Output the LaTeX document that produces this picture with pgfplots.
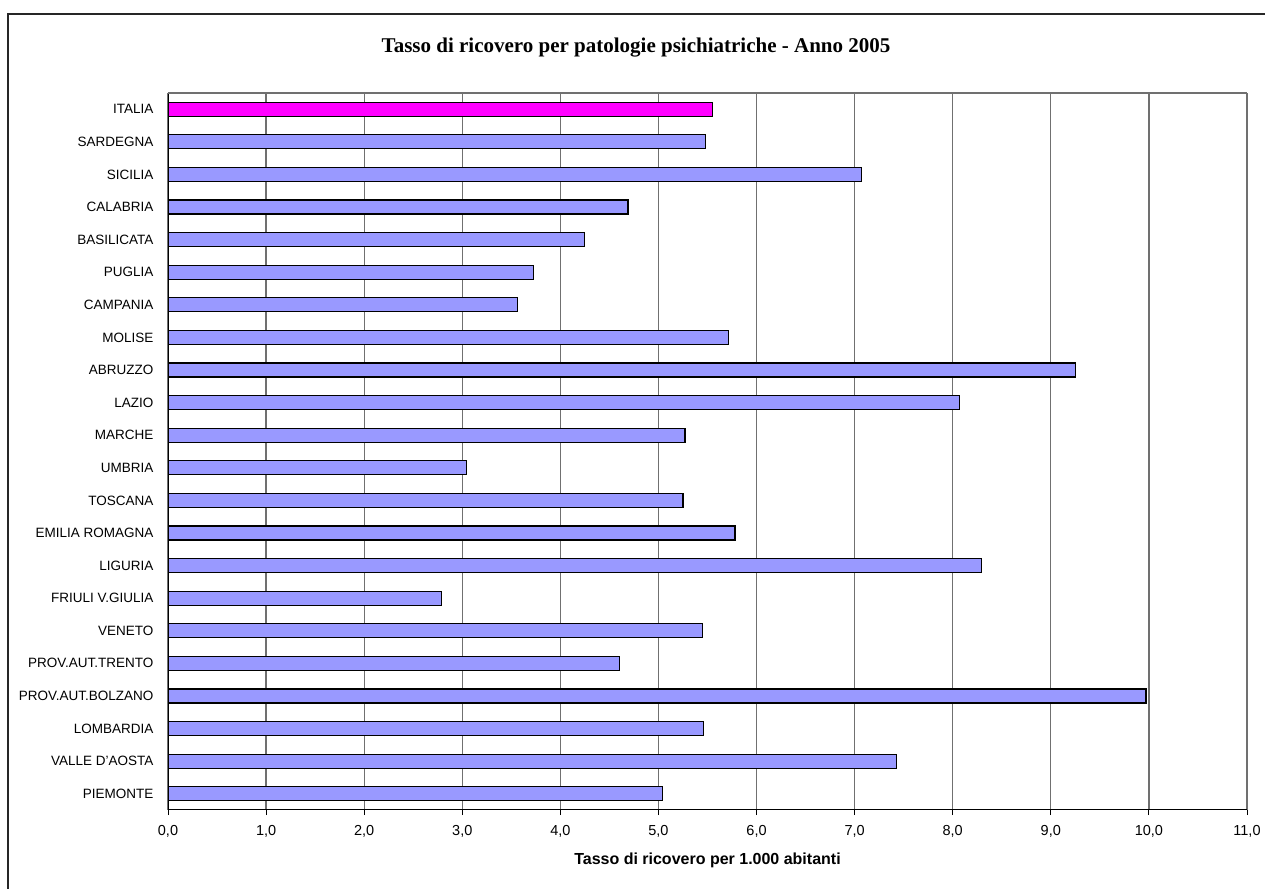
\documentclass[border=0pt]{standalone}
\usepackage{pgfplots}
\pgfplotsset{compat=1.18}
\usepackage{fontspec}
\setmainfont{Liberation Sans}
\newfontfamily\titlefont{Liberation Serif}
\definecolor{barblue}{HTML}{9999FF}
\definecolor{barmag}{HTML}{FF00FF}
\definecolor{gridgray}{HTML}{707070}
\begin{document}
\begin{tikzpicture}
\path[use as bounding box] (0pt,0pt) rectangle (1265pt,888pt);
\draw[line width=1.5pt, black!85] (8pt,874pt) rectangle (1280pt,-10pt);
\node[font=\titlefont\bfseries\fontsize{21}{24}\selectfont] at (636pt,840pt) {Tasso di ricovero per patologie psichiatriche - Anno 2005};
\begin{axis}[
  at={(168pt,78pt)}, anchor=south west,
  scale only axis, width=1079pt, height=717pt,
  xbar, bar width=14pt, bar shift=0pt,
  xmin=0, xmax=11, ymin=-0.5, ymax=21.5,
  axis x line*=bottom, axis y line*=left,
  axis line style={black, line width=1pt},
  xtick={0,...,11},
  xmajorgrids, grid style={gridgray, line width=1.2pt},
  x tick style={black, line width=1pt},
  tick align=outside, major tick length=5pt,
  ytick={0,...,21},
  y tick style={draw=none},
  minor ytick={-0.5,0.5,...,21.5},
  minor y tick style={black, line width=1pt},
  minor tick length=5pt,
  yticklabels={PIEMONTE,VALLE D'AOSTA,LOMBARDIA,PROV.AUT.BOLZANO,PROV.AUT.TRENTO,VENETO,FRIULI V.GIULIA,LIGURIA,EMILIA ROMAGNA,TOSCANA,UMBRIA,MARCHE,LAZIO,ABRUZZO,MOLISE,CAMPANIA,PUGLIA,BASILICATA,CALABRIA,SICILIA,SARDEGNA,ITALIA},
  yticklabel style={font=\fontsize{13.5}{15}\selectfont, xshift=-6pt},
  xticklabel style={font=\fontsize{14.5}{16}\selectfont, yshift=-7pt},
  /pgf/number format/assume math mode=true,
  xticklabel={\pgfmathprintnumber[fixed, fixed zerofill, precision=1, use comma]{\tick}},
  xlabel={\bfseries Tasso di ricovero per 1.000 abitanti},
  xlabel style={font=\fontsize{16}{18}\selectfont\bfseries, yshift=-9pt},
]
\addplot[fill=barblue, draw=black, line width=1.2pt] coordinates {
(5.04,0) (7.43,1) (5.46,2) (9.97,3) (4.60,4) (5.45,5) (2.79,6) (8.29,7)
(5.78,8) (5.25,9) (3.04,10) (5.27,11) (8.07,12) (9.25,13) (5.71,14)
(3.56,15) (3.73,16) (4.25,17) (4.69,18) (7.07,19) (5.48,20)};
\addplot[fill=barmag, draw=black, line width=1.2pt] coordinates {(5.55,21)};
\draw[gridgray, line width=1.2pt] (axis cs:0,21.5) -- (axis cs:11,21.5);
\end{axis}
\end{tikzpicture}
\end{document}
